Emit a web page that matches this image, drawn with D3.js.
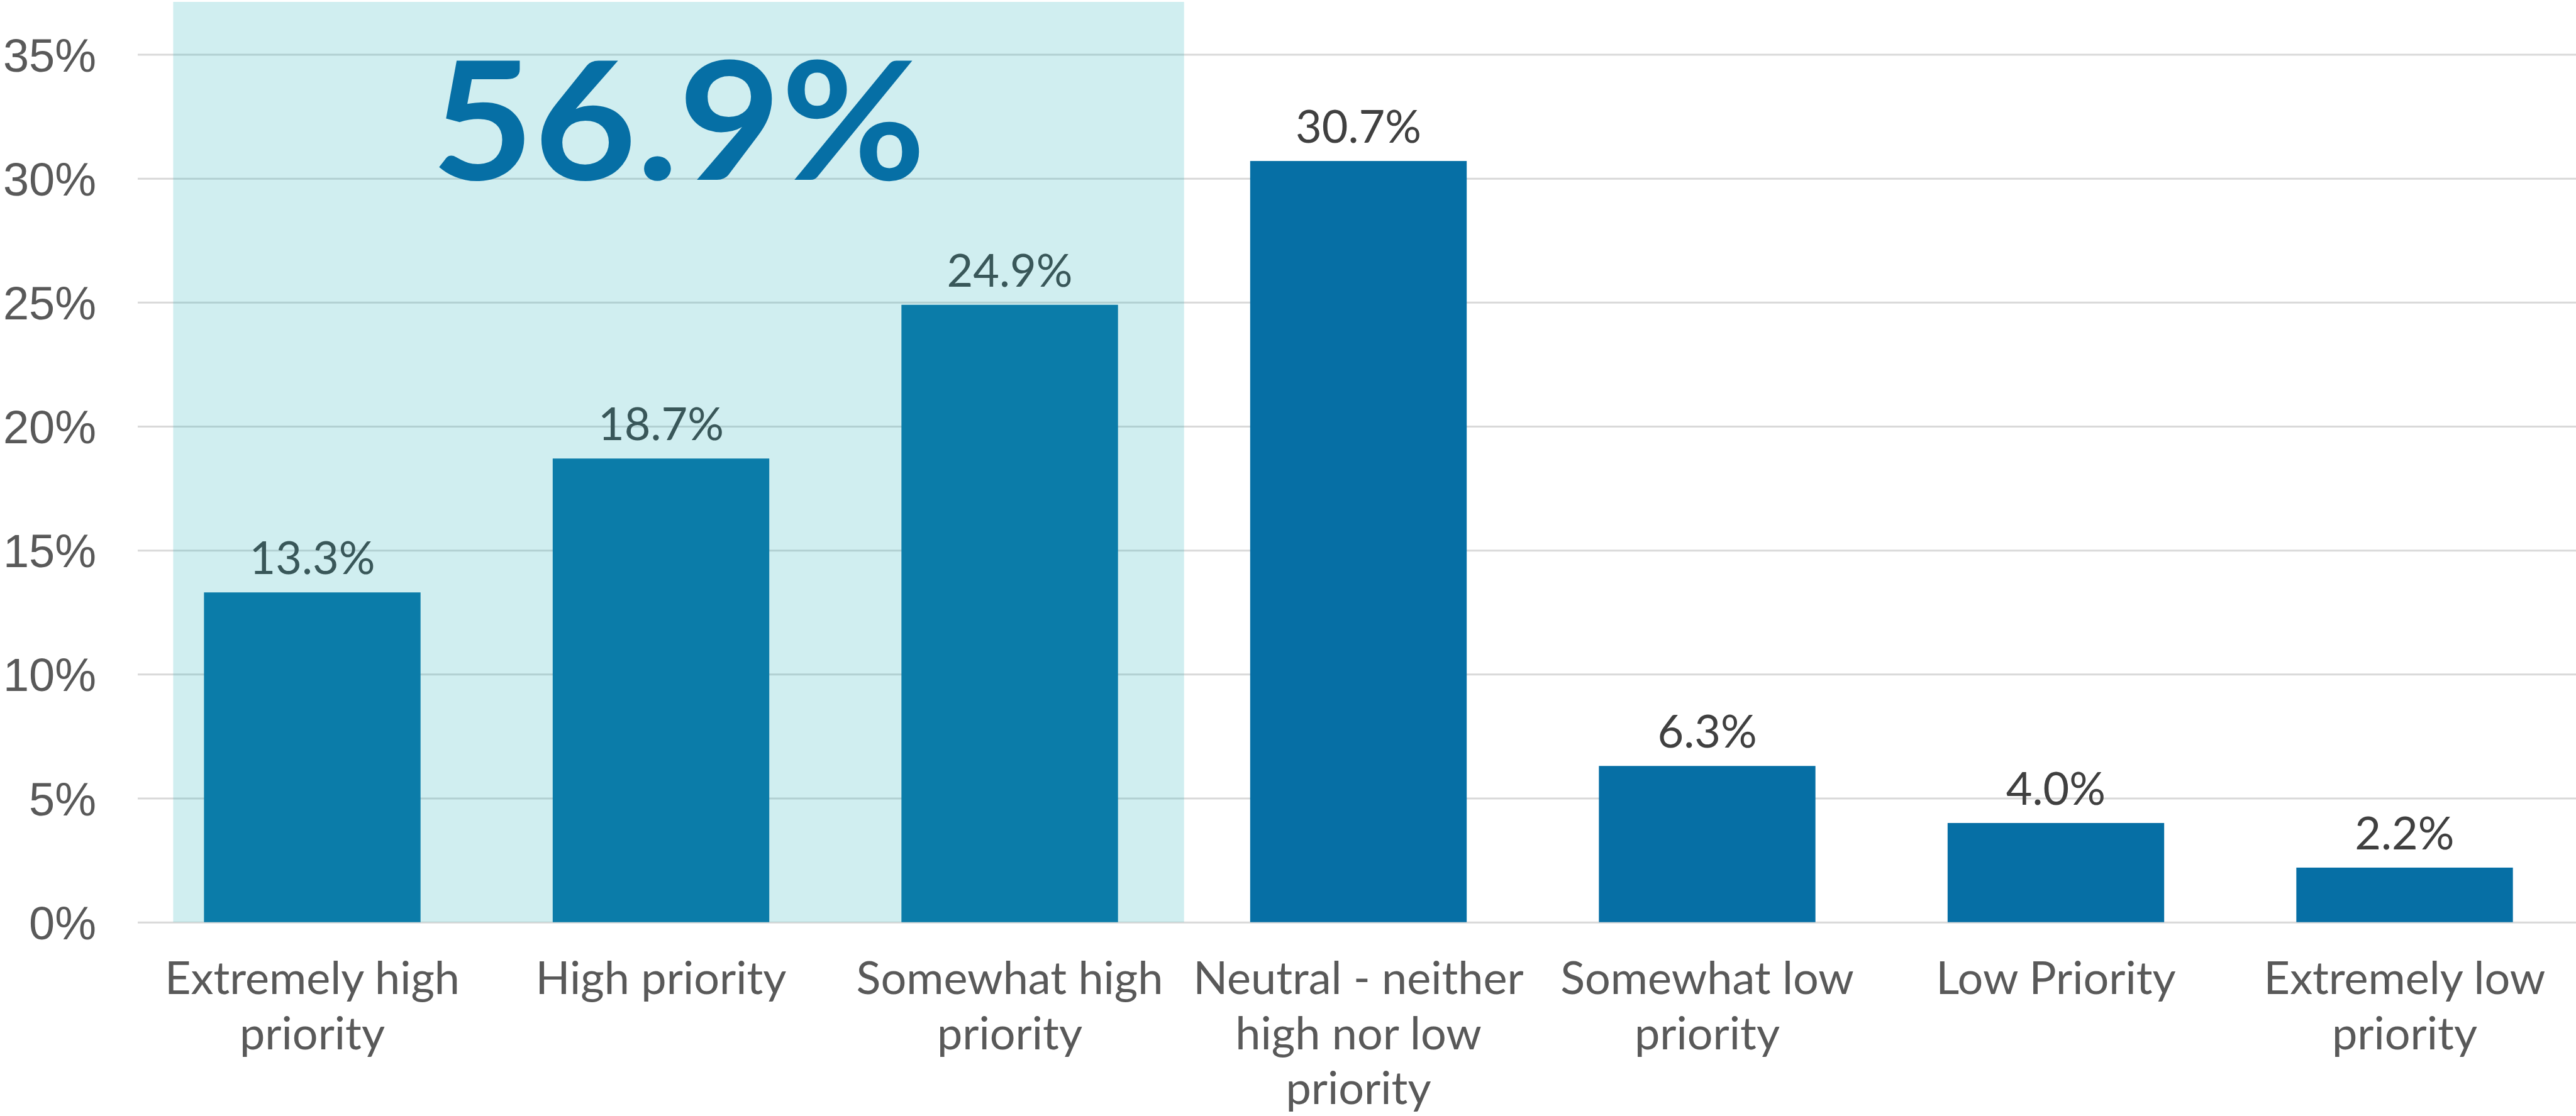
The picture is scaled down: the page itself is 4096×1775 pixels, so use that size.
<!DOCTYPE html>
<html>
<head>
<meta charset="utf-8">
<script src="https://cdn.jsdelivr.net/npm/d3@7"></script>
<style>
  html, body { margin: 0; padding: 0; background: #fff; }
  svg { display: block; font-family: Lato, "Open Sans", sans-serif; }
</style>
</head>
<body>
<svg id="chart" width="4096" height="1775"></svg>
<script>
// data
const categories = [
    'Extremely high\npriority',
    'High priority',
    'Somewhat high\npriority',
    'Neutral - neither\nhigh nor low\npriority',
    'Somewhat low\npriority',
    'Low Priority',
    'Extremely low\npriority',
];
const values = [13.3, 18.7, 24.9, 30.7, 6.3, 4.0, 2.2];
const yTicks = [0, 5, 10, 15, 20, 25, 30, 35];
const highlighted = categories.slice(0, 3);

const W = 4096, H = 1775;
const svg = d3.select('#chart');

const x = d3.scaleBand()
    .domain(categories)
    .range([219, 4101])
    .paddingInner(0.379)
    .paddingOuter(0.19);
const y = d3.scaleLinear().domain([0, 35]).range([1466.7, 86.5]);
const gap = x.step() - x.bandwidth();

// gridlines + tick labels
const yAxis = svg.append('g')
    .attr('transform', `translate(${x.range()[0]},0)`)
    .call(d3.axisLeft(y)
        .tickValues(yTicks)
        .tickSize(-(W - x.range()[0]))
        .tickPadding(66)
        .tickFormat(d => d + '%'));
yAxis.select('.domain').remove();
yAxis.selectAll('.tick line').attr('stroke', '#d9d9d9').attr('stroke-width', 3);
yAxis.selectAll('.tick text')
    .attr('fill', '#595959')
    .attr('font-size', 74)
    .attr('dy', '0.36em');

// bars
svg.append('g').selectAll('rect')
    .data(values)
    .join('rect')
    .attr('x', (d, i) => x(categories[i]))
    .attr('y', d => y(d))
    .attr('width', x.bandwidth())
    .attr('height', d => y(0) - y(d))
    .attr('fill', '#066fa5');

// value labels
svg.append('g').selectAll('text')
    .data(values)
    .join('text')
    .attr('x', (d, i) => x(categories[i]) + x.bandwidth() / 2)
    .attr('y', d => y(d) - 29)
    .attr('text-anchor', 'middle')
    .attr('font-size', 72)
    .attr('fill', '#404040')
    .text(d => d.toFixed(1) + '%');

// category labels, one tspan per line
const catG = svg.append('g').attr('font-size', 72).attr('fill', '#595959');
categories.forEach(c => {
    const t = catG.append('text')
        .attr('text-anchor', 'middle')
        .attr('x', x(c) + x.bandwidth() / 2)
        .attr('y', y(0) + 114.5);
    c.split('\n').forEach((line, i) => {
        t.append('tspan')
            .attr('x', x(c) + x.bandwidth() / 2)
            .attr('dy', i ? 87.5 : 0)
            .text(line);
    });
});

// translucent teal box over the "high" group
const hlLeft = x(highlighted[0]) - 0.233 * gap;
const hlRight = x(highlighted[highlighted.length - 1]) + x.bandwidth() + gap / 2;
const hlTop = 3;
svg.append('rect')
    .attr('x', hlLeft)
    .attr('y', hlTop)
    .attr('width', hlRight - hlLeft)
    .attr('height', y(0) - hlTop)
    .attr('fill', '#1faeb7')
    .attr('fill-opacity', 0.21);

// big total of the highlighted group
const total = d3.sum(values.slice(0, highlighted.length));
svg.append('text')
    .attr('x', (hlLeft + hlRight) / 2)
    .attr('y', 286)
    .attr('text-anchor', 'middle')
    .attr('font-size', 262)
    .attr('font-weight', 700)
    .attr('fill', '#066fa5')
    .attr('textLength', 786)
    .attr('lengthAdjust', 'spacingAndGlyphs')
    .text(total.toFixed(1) + '%');
</script>
</body>
</html>
